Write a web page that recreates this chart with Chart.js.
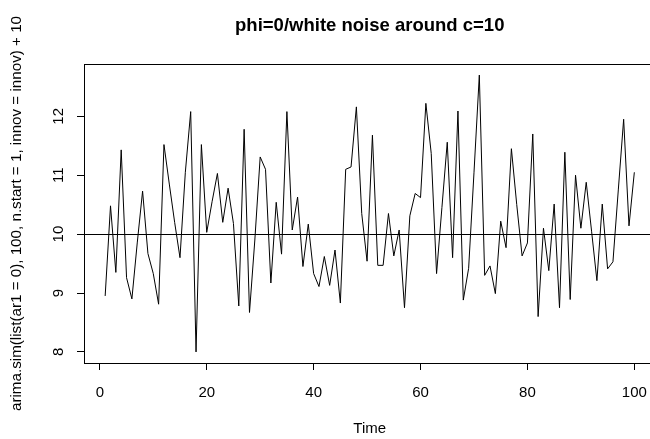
<!DOCTYPE html>
<html>
<head>
<meta charset="utf-8">
<script src="https://cdn.jsdelivr.net/npm/chart.js@4/dist/chart.umd.min.js"></script>
<style>
  html, body { margin: 0; padding: 0; background: #fff; overflow: hidden; }
  #wrap { width: 660px; height: 439px; }
</style>
</head>
<body>
<div id="wrap"><canvas id="c" width="660" height="439"></canvas></div>
<script>
// Simulated series: white noise around the level c = 10
const time = Array.from({ length: 100 }, (_, i) => i + 1);
const values = [
  8.95, 10.48, 9.35, 11.43, 9.26, 8.90, 9.85, 10.73, 9.67, 9.33,
  8.81, 11.52, 10.85, 10.20, 9.60, 11.05, 12.08, 8.00, 11.52, 10.03,
  10.55, 11.03, 10.20, 10.78, 10.18, 8.78, 11.78, 8.67, 9.90, 11.31,
  11.10, 9.17, 10.54, 9.66, 12.08, 10.07, 10.63, 9.45, 10.17, 9.33,
  9.11, 9.62, 9.13, 9.73, 8.83, 11.10, 11.14, 12.16, 10.35, 9.54,
  11.68, 9.47, 9.47, 10.35, 9.63, 10.07, 8.75, 10.31, 10.69, 10.62,
  12.22, 11.37, 9.33, 10.45, 11.56, 9.60, 12.09, 8.88, 9.42, 11.04,
  12.70, 9.30, 9.46, 8.99, 10.22, 9.77, 11.45, 10.50, 9.63, 9.85,
  11.70, 8.60, 10.10, 9.38, 10.51, 8.75, 11.39, 8.89, 11.00, 10.10,
  10.88, 10.05, 9.21, 10.51, 9.41, 9.53, 10.75, 11.95, 10.14, 11.05
];
const level = 10;
const xTicks = [0, 20, 40, 60, 80, 100];
const yTicks = [8, 9, 10, 11, 12];

const titleText = 'phi=0/white noise around c=10';
const xTitle = 'Time';
const yTitle = 'arima.sim(list(ar1 = 0), 100, n.start = 1, innov = innov) + 10';

// R-style axis extension: 4% of the data range on each side
function extend(arr) {
  const lo = Math.min(...arr), hi = Math.max(...arr);
  const pad = (hi - lo) * 0.04;
  return [lo - pad, hi + pad];
}
const [xMin, xMax] = extend(time);
const [yMin, yMax] = extend(values);

const FONT = '"Liberation Sans", Arial, Helvetica, sans-serif';

const frameAndText = {
  id: 'frameAndText',
  beforeDatasetsDraw(chart) {
    const { ctx, chartArea: a, scales: { y } } = chart;
    // horizontal reference line at the level
    const py = Math.round(y.getPixelForValue(level)) + 0.5;
    ctx.save();
    ctx.strokeStyle = '#000';
    ctx.lineWidth = 1;
    ctx.beginPath();
    ctx.moveTo(a.left, py);
    ctx.lineTo(a.right, py);
    ctx.stroke();
    ctx.restore();
  },
  afterDraw(chart) {
    const { ctx, chartArea: a, scales: { x, y } } = chart;
    ctx.save();
    // plot frame
    ctx.strokeStyle = '#000';
    ctx.lineWidth = 1;
    ctx.strokeRect(Math.round(a.left) + 0.5, Math.round(a.top) + 0.5,
                   Math.round(a.right - a.left), Math.round(a.bottom - a.top));

    ctx.fillStyle = '#000';
    ctx.textAlign = 'center';
    ctx.textBaseline = 'middle';

    // title
    ctx.font = 'bold 18.5px ' + FONT;
    ctx.fillText(titleText, (a.left + a.right) / 2, 26);

    // x tick labels and axis title
    ctx.font = '15px ' + FONT;
    xTicks.forEach(v => ctx.fillText(String(v), x.getPixelForValue(v), 393));
    ctx.fillText(xTitle, (a.left + a.right) / 2, 429);

    // y tick labels, rotated as in base R graphics
    yTicks.forEach(v => {
      ctx.save();
      ctx.translate(59, y.getPixelForValue(v));
      ctx.rotate(-Math.PI / 2);
      ctx.fillText(String(v), 0, 0);
      ctx.restore();
    });

    // y axis title
    ctx.save();
    ctx.font = '15.2px ' + FONT;
    ctx.translate(17, (a.top + a.bottom) / 2);
    ctx.rotate(-Math.PI / 2);
    ctx.fillText(yTitle, 0, 0);
    ctx.restore();

    ctx.restore();
  }
};

new Chart(document.getElementById('c'), {
  type: 'line',
  data: {
    labels: time,
    datasets: [{
      data: time.map((t, i) => ({ x: t, y: values[i] })),
      borderColor: '#000',
      borderWidth: 1,
      pointRadius: 0,
      tension: 0,
      fill: false
    }]
  },
  options: {
    responsive: false,
    animation: false,
    devicePixelRatio: 1,
    layout: { padding: { left: 0, top: 64, right: 4.5, bottom: 0 }, autoPadding: false },
    plugins: { legend: { display: false }, title: { display: false }, tooltip: { enabled: false } },
    scales: {
      x: {
        type: 'linear',
        min: xMin,
        max: xMax,
        afterBuildTicks: s => { s.ticks = xTicks.map(v => ({ value: v })); },
        afterFit: s => { s.height = 76; },
        ticks: { display: false },
        grid: { display: true, drawOnChartArea: false, drawTicks: true, tickLength: 7, color: '#000', lineWidth: 1 },
        border: { display: false }
      },
      y: {
        type: 'linear',
        min: yMin,
        max: yMax,
        afterBuildTicks: s => { s.ticks = yTicks.map(v => ({ value: v })); },
        afterFit: s => { s.width = 84; },
        ticks: { display: false },
        grid: { display: true, drawOnChartArea: false, drawTicks: true, tickLength: 7, color: '#000', lineWidth: 1 },
        border: { display: false }
      }
    }
  },
  plugins: [frameAndText]
});
</script>
</body>
</html>
